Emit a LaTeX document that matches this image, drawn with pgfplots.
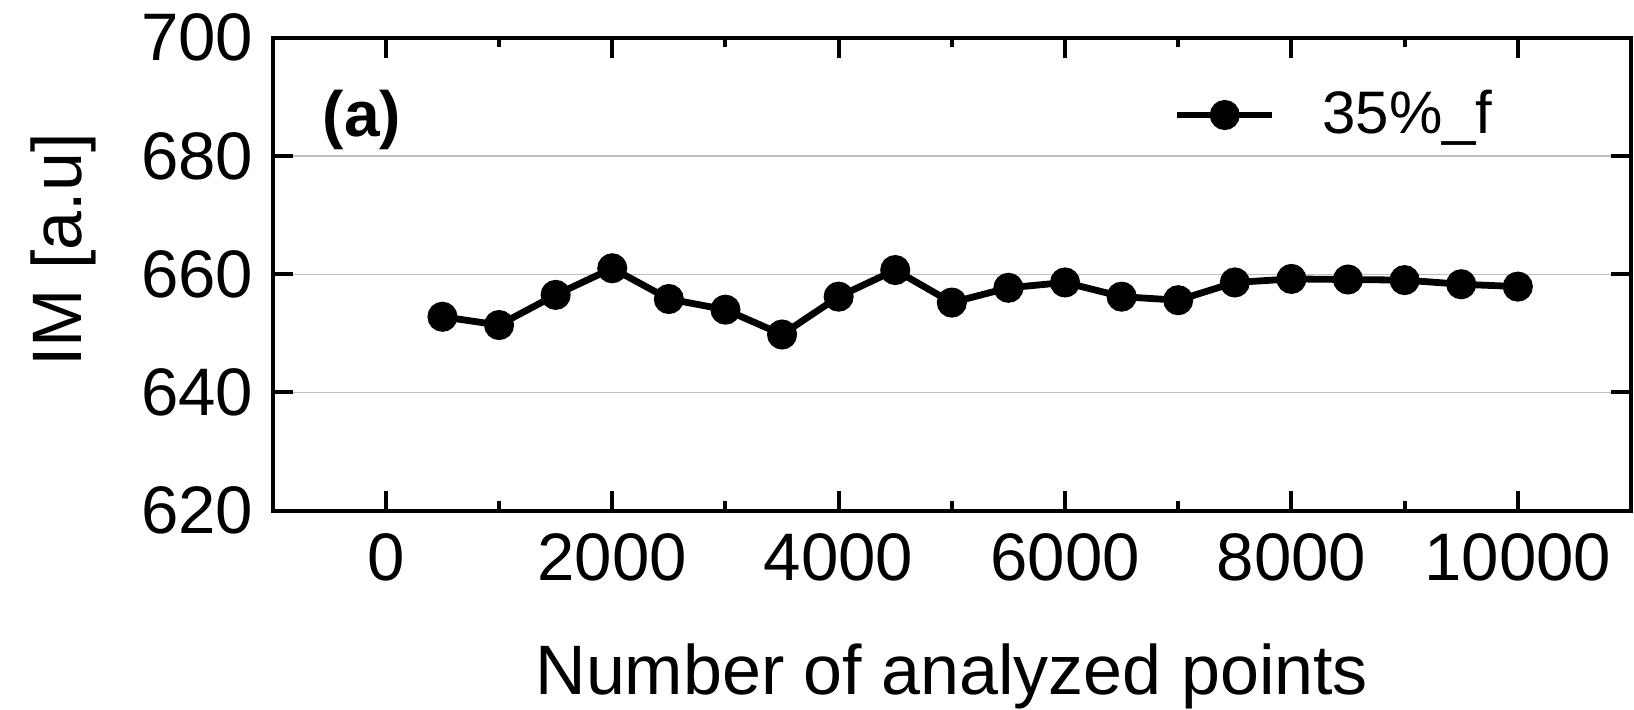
\documentclass[border=0pt]{standalone}
\usepackage{fontspec}
\setmainfont{Liberation Sans}
\usepackage{pgfplots}
\pgfplotsset{compat=1.18}

\begin{document}
\begin{tikzpicture}
\begin{axis}[%
width=339.6pt,
height=118.25pt,
scale only axis,
xmin=-1000,
xmax=11000,
ymin=620,
ymax=700,
xtick={0,2000,4000,6000,8000,10000},
minor xtick={1000,3000,5000,7000,9000},
ytick={620,640,660,680,700},
scaled x ticks=false,
tick align=inside,
major tick length=5pt,
minor tick length=2.3pt,
every tick/.style={black, line width=1pt},
axis line style={line width=1pt},
ymajorgrids,
grid style={color=black!25, line width=0.3pt},
/pgf/number format/assume math mode=true,
/pgf/number format/set thousands separator={},
tick label style={font=\fontsize{16.8}{20}\selectfont},
x tick label style={yshift=-2.1pt},
y tick label style={xshift=-1.3pt},
xlabel={Number of analyzed points},
ylabel={IM [a.u]},
label style={font=\fontsize{17.5}{21}\selectfont},
xlabel style={at={(axis description cs:0.5,-0.3896)}, anchor=base, inner sep=0pt},
ylabel style={at={(axis description cs:-0.1404,0.551)}, anchor=base, inner sep=0pt},
legend style={draw=none, fill=none, at={(axis description cs:0.6628,0.8366)},
  anchor=west, inner sep=0pt, column sep=11.75pt,
  nodes={inner sep=0pt}, font=\fontsize{15}{18}\selectfont},
legend image code/.code={\draw[mark repeat=2, mark phase=2]
  plot coordinates {(0pt,0pt) (11.9pt,0pt) (23.75pt,0pt)};},
]
% 35%_f
\addplot[black, line width=1.7pt, mark=*, mark size=2.9pt, mark options={solid}] coordinates{
  (500,652.8)
  (1000,651.4)
  (1500,656.5)
  (2000,661.0)
  (2500,655.8)
  (3000,654.0)
  (3500,649.8)
  (4000,656.2)
  (4500,660.7)
  (5000,655.2)
  (5500,657.7)
  (6000,658.6)
  (6500,656.2)
  (7000,655.6)
  (7500,658.6)
  (8000,659.2)
  (8500,659.1)
  (9000,659.0)
  (9500,658.3)
  (10000,657.9)
};
\addlegendentry{35\%\_f}

\node[anchor=west, inner sep=0pt, font=\bfseries\fontsize{16}{19}\selectfont]
  at (rel axis cs:0.0363,0.826) {(a)};
\coordinate (bl) at (rel axis cs:0,0);
\coordinate (tr) at (rel axis cs:1,1);
\end{axis}
\pgfresetboundingbox
\path ([shift={(-68.175pt,-49.825pt)}]bl) rectangle ([shift={(0.75pt,9.425pt)}]tr);
\end{tikzpicture}
\end{document}
